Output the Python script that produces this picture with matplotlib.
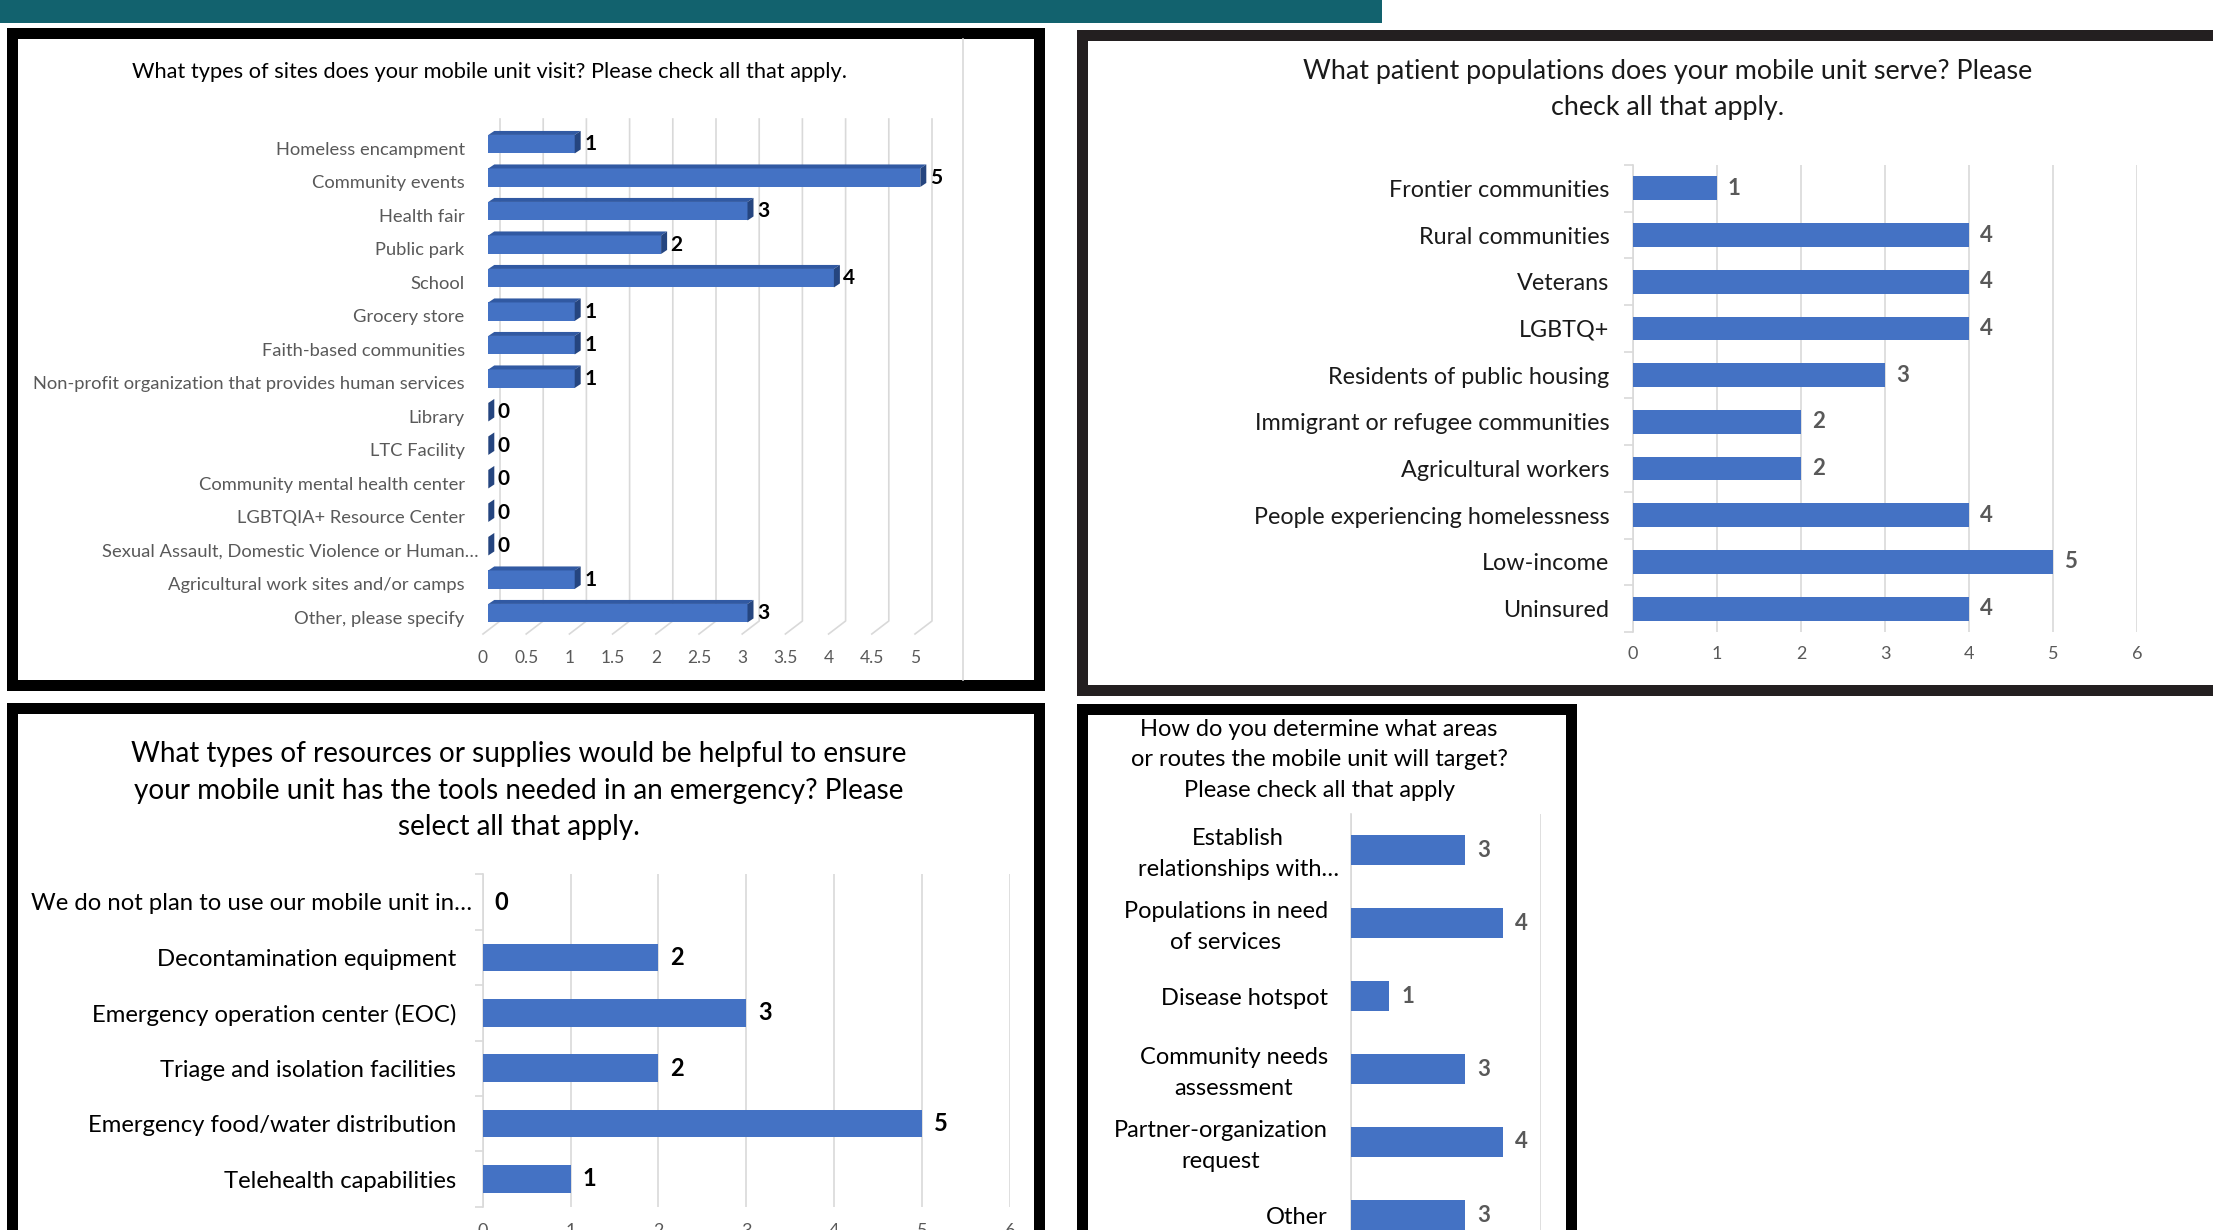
import numpy as np
import matplotlib
matplotlib.use('Agg')
import matplotlib.pyplot as plt
from matplotlib.patches import Rectangle, Polygon
from matplotlib.lines import Line2D
from matplotlib.transforms import ScaledTranslation

plt.rcParams['font.family'] = ['Lato', 'DejaVu Sans']

# --- data -------------------------------------------------------------
site_labels = ['Homeless encampment', 'Community events', 'Health fair', 'Public park',
               'School', 'Grocery store', 'Faith-based communities',
               'Non-profit organization that provides human services', 'Library',
               'LTC Facility', 'Community mental health center', 'LGBTQIA+ Resource Center',
               'Sexual Assault, Domestic Violence or Human…',
               'Agricultural work sites and/or camps', 'Other, please specify']
site_counts = [1, 5, 3, 2, 4, 1, 1, 1, 0, 0, 0, 0, 0, 1, 3]
site_ticks = np.arange(0, 5.01, 0.5)

pop_labels = ['Frontier communities', 'Rural communities', 'Veterans', 'LGBTQ+',
              'Residents of public housing', 'Immigrant or refugee communities',
              'Agricultural workers', 'People experiencing homelessness', 'Low-income',
              'Uninsured']
pop_counts = [1, 4, 4, 4, 3, 2, 2, 4, 5, 4]

res_labels = ['We do not plan to use our mobile unit in…', 'Decontamination equipment',
              'Emergency operation center (EOC)', 'Triage and isolation facilities',
              'Emergency food/water distribution', 'Telehealth capabilities']
res_counts = [0, 2, 3, 2, 5, 1]

route_labels = ['Establish\nrelationships with…', 'Populations in need\nof services',
                'Disease hotspot', 'Community needs\nassessment',
                'Partner-organization\nrequest', 'Other']
route_counts = [3, 4, 1, 3, 4, 3]

title1 = 'What types of sites does your mobile unit visit? Please check all that apply.'
title2 = 'What patient populations does your mobile unit serve? Please\ncheck all that apply.'
title3 = ('What types of resources or supplies would be helpful to ensure\n'
          'your mobile unit has the tools needed in an emergency? Please\n'
          'select all that apply.')
title4 = ('How do you determine what areas\nor routes the mobile unit will target?\n'
          'Please check all that apply')

BLUE = '#4472c4'
TOP = '#3159a2'
SIDE = '#25457f'
GRID = '#d9d9d9'
GRAY = '#595959'
DARK = '#1a1a1a'

W, H = 2213, 1230
fig = plt.figure(figsize=(W / 100, H / 100), dpi=100)


def box(x0, y0, x1, y1):
    return [x0 / W, 1 - y1 / H, (x1 - x0) / W, (y1 - y0) / H]


def frame(x0, y0, x1, y1, t, color):
    fig.add_artist(Rectangle((x0 / W, 1 - y1 / H), (x1 - x0) / W, (y1 - y0) / H,
                             transform=fig.transFigure, fc=color, ec='none', zorder=-2))
    fig.add_artist(Rectangle(((x0 + t) / W, 1 - (y1 - t) / H), (x1 - x0 - 2 * t) / W,
                             (y1 - y0 - 2 * t) / H,
                             transform=fig.transFigure, fc='white', ec='none', zorder=-1))


def ftext(x, y, s, **kw):
    fig.text(x / W, 1 - y / H, s, ha='center', va='center', **kw)


def nudge(label, dx_px, dy_px):
    # shift a tick label by a few pixels (dy positive = down)
    label.set_transform(label.get_transform() +
                        ScaledTranslation(dx_px / 100, -dy_px / 100, fig.dpi_scale_trans))


# banner and panel frames
fig.add_artist(Rectangle((0, 1 - 22.5 / H), 1382 / W, 22.5 / H, transform=fig.transFigure,
                         fc='#12626e', ec='none', zorder=-2))
frame(7, 28, 1045, 691, 11, 'black')
frame(1077, 30, 2260, 696, 11, '#231f20')
frame(7, 703, 1045, 1260, 11, 'black')
frame(1077, 704, 1577, 1260, 11, 'black')
fig.add_artist(Line2D([963 / W, 963 / W], [1 - 39 / H, 1 - 680 / H], transform=fig.transFigure,
                      color=GRID, lw=1.2))

# --- chart 1: 3D style bars ---------------------------------------------
u1, s1 = 86.4, 33.5
ax1 = fig.add_axes(box(488.3, 144.2 - s1, 488.3 + 6 * u1, 144.2 + 15 * s1))
ax1.set_xlim(0, 6)
ax1.set_ylim(15, -1)
ax1.set_frame_on(False)
ax1.set_xticks([])
gb, gf = 11.7 / u1, -5.3 / u1
y_top, y_fb, y_ff = (119 - 144.2) / s1, (621 - 144.2) / s1, (634 - 144.2) / s1
for v in site_ticks:
    ax1.plot([v + gb, v + gb, v + gf], [y_top, y_fb, y_ff], color=GRID, lw=1.2,
             zorder=1, clip_on=False)
    ax1.text(v + gf, (658 - 144.2) / s1, f'{v:g}', ha='center', va='center',
             color=GRAY, fontsize=12.5)
bh = 18.5 / s1
ddx, ddy = 6 / u1, 4 / s1
y1 = np.arange(len(site_counts))
ax1.barh(y1, site_counts, height=bh, color=BLUE, zorder=3)
for i, v in zip(y1, site_counts):
    t = i - bh / 2
    ax1.add_patch(Polygon([(0, t), (v, t), (v + ddx, t - ddy), (ddx, t - ddy)],
                          closed=True, fc=TOP, ec='none', zorder=3))
    ax1.add_patch(Polygon([(v, t), (v + ddx, t - ddy), (v + ddx, t + bh - ddy), (v, t + bh)],
                          closed=True, fc=SIDE, ec='none', zorder=3))
    ax1.text(v + ddx + 0.04, i, str(v), ha='left', va='center', fontsize=15,
             fontweight='bold', color='black')
ax1.set_yticks(y1)
ax1.set_yticklabels(site_labels, fontsize=13.2, color=GRAY)
ax1.tick_params(axis='y', length=0, pad=17)
for k, lab in enumerate(ax1.get_yticklabels()):
    nudge(lab, 14 if site_labels[k].endswith('…') else 0, 4)
ftext(490, 72, title1, fontsize=15.7, color='black')


# --- flat bar charts ----------------------------------------------------
def flat_chart(rect, labels, counts, xmax, step, bar_h, lab_size, lab_color, val_color,
               val_size, val_gap, pad, tick_size, tick_pad, minor_len):
    ax = fig.add_axes(rect)
    n = len(counts)
    y = np.arange(n)
    ax.barh(y, counts, height=bar_h, color=BLUE, zorder=3)
    ax.set_xlim(0, xmax)
    ax.set_ylim(n - 0.5, -0.5)
    ax.set_xticks(np.arange(0, xmax + 0.01, step))
    ax.xaxis.grid(True, color=GRID, lw=1.2)
    ax.set_axisbelow(True)
    for side in ['top', 'right', 'bottom']:
        ax.spines[side].set_visible(False)
    ax.spines['left'].set_color(GRID)
    ax.spines['left'].set_linewidth(1.2)
    ax.tick_params(axis='x', length=0, labelsize=tick_size, labelcolor=GRAY, pad=tick_pad)
    ax.set_yticks(y)
    ax.set_yticklabels(labels, fontsize=lab_size, color=lab_color)
    ax.tick_params(axis='y', which='major', length=0, pad=pad)
    if minor_len:
        ax.set_yticks(np.arange(-0.5, n, 1), minor=True)
        ax.tick_params(axis='y', which='minor', length=minor_len, color=GRID, width=1.2)
    for i, v in zip(y, counts):
        ax.text(v + val_gap, i, str(v), ha='left', va='center', fontsize=val_size,
                fontweight='bold', color=val_color)
    return ax


ax2 = flat_chart(box(1633, 165, 1633 + 6 * 84, 632), pop_labels, pop_counts, 6, 1, 0.51,
                 16.8, DARK, GRAY, 16, 0.13, 17, 13, 10, 6.5)
ftext(1668, 89.5, title2, fontsize=19.4, color=DARK, linespacing=1.56)

ax3 = flat_chart(box(482.6, 874.3, 482.6 + 6 * 87.9, 1206.7), res_labels, res_counts, 6, 1,
                 0.5, 17.2, 'black', 'black', 17, 0.136, 19, 13, 12, 6)
nudge(ax3.get_yticklabels()[0], 16, 0)
ftext(518.7, 790.5, title3, fontsize=20.1, color='black', linespacing=1.5)

ax4 = flat_chart(box(1351.4, 813.5, 1351.4 + 5 * 37.9, 1251.5), route_labels, route_counts, 5,
                 5, 0.4, 17, 'black', GRAY, 16, 0.32, 17, 13, 13, 0)
for k, lab in enumerate(ax4.get_yticklabels()):
    lab.set_multialignment('center')
    lab.set_linespacing(1.6)
    nudge(lab, 11 if k == 0 else 0, -3 if '\n' in route_labels[k] else 0)
ax4.set_xticklabels([])
ftext(1319, 760, title4, fontsize=17, color='black', linespacing=1.56)

fig.savefig('out.png', dpi=100)
